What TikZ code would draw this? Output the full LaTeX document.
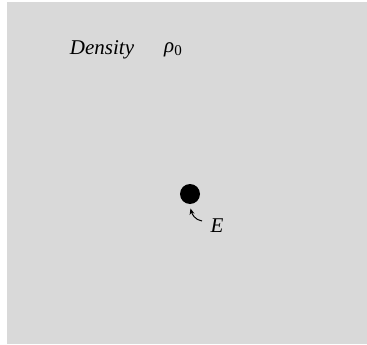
\documentclass[tikz,border=0pt]{standalone}
\usepackage{fontspec}
\setmainfont{Liberation Serif}
\usetikzlibrary{arrows.meta}
\tikzset{
  lbl/.style={inner sep=0pt, font=\fontsize{21}{24}\selectfont\itshape},
  pointer/.style={line width=1pt, -{Stealth[length=6pt,width=5pt]}}
}
\begin{document}
\begin{tikzpicture}[x=1pt,y=-1pt]
\useasboundingbox (0,0) rectangle (367,345);
\fill[gray!30] (7,2) rectangle (367,344);
\node[lbl] (dens) at (102,50) {Density};
\node[lbl, anchor=west] (rho) at (164,50) {ρ\raisebox{-0.3ex}{\upshape\fontsize{15}{16}\selectfont 0}};
\fill (190,194) circle (10) coordinate (dot);
\node[lbl] (E) at (217,226) {E};
\coordinate (s) at (202,221);
\coordinate (t) at (190.5,208.5);
\draw[pointer] (s) .. controls (195,220) and (192,214) .. (t);
\end{tikzpicture}
\end{document}
